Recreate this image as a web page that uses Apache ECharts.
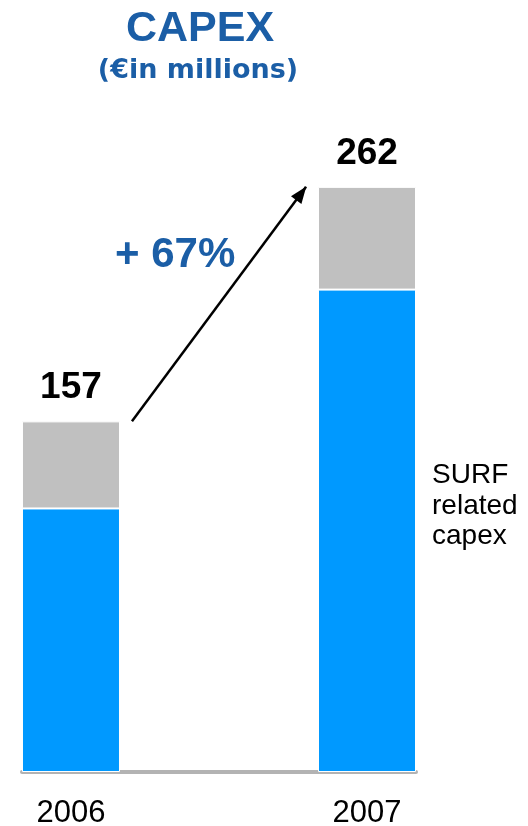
<!DOCTYPE html>
<html>
<head>
<meta charset="utf-8">
<title>CAPEX</title>
<script src="https://cdn.jsdelivr.net/npm/echarts@6/dist/echarts.min.js"></script>
<style>
  html, body { margin: 0; padding: 0; background: #fff; }
  #main { width: 528px; height: 826px; }
</style>
</head>
<body>
<div id="main"></div>
<script>
const years = ["2006", "2007"];
const surfCapex = [118, 216];   // blue part
const otherCapex = [39, 46];    // grey part
const totals = years.map((y, i) => surfCapex[i] + otherCapex[i]);
const growth = Math.round((totals[1] / totals[0] - 1) * 100);

const FONT = "Liberation Sans, Arial, Helvetica, sans-serif";
const TITLE_BLUE = "#1b5ea6";
// arrow starts / ends this far (in category units) inside the bar centres
const arrowInset = 0.206;

// value first so the stack runs on the y dimension, x index second
function toPoints(values) {
  return values.map((v, i) => [v, i]);
}

const options = {
  animation: false,
  title: [
    {
      text: "CAPEX",
      left: 200,
      top: 8,
      textAlign: "center",
      padding: 0,
      textStyle: { fontFamily: FONT, fontSize: 43, fontWeight: "bold", color: TITLE_BLUE }
    },
    {
      text: "(€in millions)",
      left: 198,
      top: 57,
      textAlign: "center",
      padding: 0,
      textStyle: { fontFamily: "DejaVu Sans", fontSize: 27, fontWeight: "bold", color: TITLE_BLUE }
    }
  ],
  grid: { left: 22, right: 112, top: 102, bottom: 54, outerBoundsMode: "none" },
  xAxis: {
    type: "value",
    min: -0.1655,
    max: 1.1655,
    splitLine: { show: false },
    axisTick: { show: false },
    axisLine: { show: true, onZero: false, lineStyle: { color: "#b3b3b3", width: 4 } },
    axisLabel: {
      customValues: years.map((y, i) => i),
      formatter: (v) => years[Math.round(v)],
      margin: 26,
      fontFamily: FONT,
      fontSize: 31,
      color: "#000"
    }
  },
  yAxis: { type: "value", min: 0, max: 300, show: false },
  series: [
    {
      name: "SURF related capex",
      type: "bar",
      stack: "capex",
      barWidth: 98,
      clip: false,
      encode: { x: 1, y: 0 },
      itemStyle: { color: "#0099ff", borderColor: "#fff", borderWidth: 1 },
      label: {
        position: "right",
        distance: 16,
        offset: [0, -25],
        formatter: "SURF\nrelated\ncapex",
        fontFamily: FONT,
        fontSize: 28,
        lineHeight: 30.5,
        color: "#000"
      },
      data: toPoints(surfCapex).map((p, i) => ({
        value: p,
        label: { show: i === years.length - 1 }
      }))
    },
    {
      name: "Other capex",
      type: "bar",
      stack: "capex",
      barWidth: 98,
      clip: false,
      encode: { x: 1, y: 0 },
      itemStyle: { color: "#c0c0c0", borderColor: "#fff", borderWidth: 1 },
      label: {
        show: true,
        position: "top",
        distance: 15,
        formatter: (p) => totals[p.dataIndex],
        fontFamily: FONT,
        fontSize: 37,
        fontWeight: "bold",
        color: "#000"
      },
      markLine: {
        silent: true,
        symbol: ["none", "triangle"],
        symbolSize: [13, 17],
        symbolOffset: [[0, 0], [0, 8]],
        label: { show: false },
        lineStyle: { color: "#000", width: 2.5, type: "solid" },
        data: [[
          { coord: [arrowInset, totals[0]] },
          { coord: [1 - arrowInset, totals[1]] }
        ]]
      },
      data: toPoints(otherCapex)
    }
  ],
  graphic: [
    {
      type: "text",
      left: 115,
      top: 234,
      style: {
        text: "+ " + growth + "%",
        font: "bold 42px " + FONT,
        fill: TITLE_BLUE
      }
    }
  ]
};

const myChart = echarts.init(document.getElementById("main"));
myChart.setOption(options);
</script>
</body>
</html>
